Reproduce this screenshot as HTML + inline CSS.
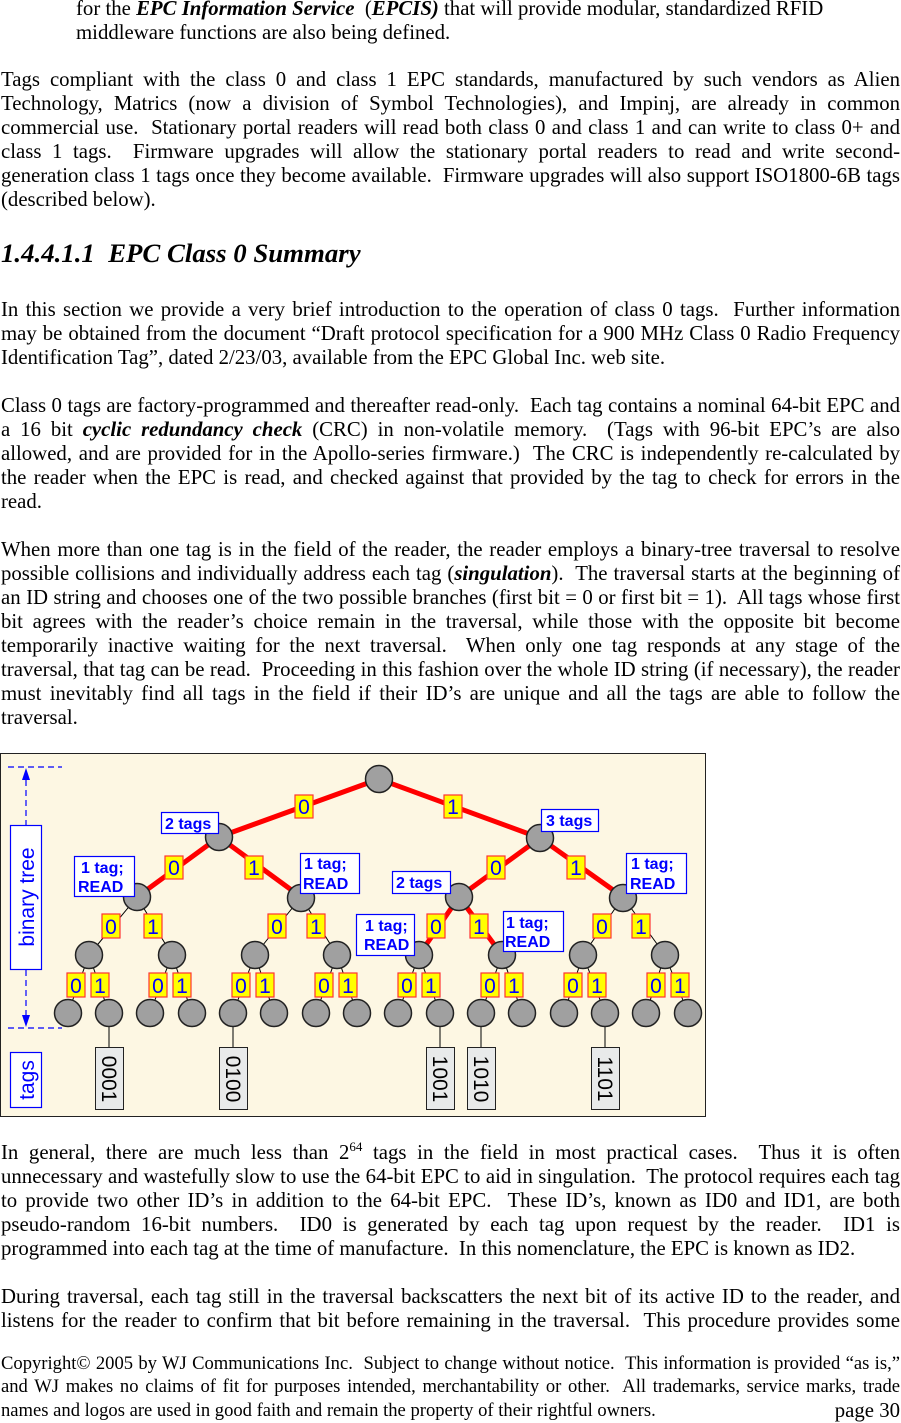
<!DOCTYPE html>
<html><head><meta charset="utf-8"><style>
body{margin:0;width:901px;height:1421px;background:#fff;position:relative;overflow:hidden;font-family:"Liberation Serif",serif;font-size:20.8px;color:#000}
.l{position:absolute;left:1px;width:899px;height:24px;line-height:24px;white-space:nowrap}
.j{text-align:justify;text-align-last:justify;white-space:normal}
.f{font-size:18.6px}
</style></head><body>
<div class="l" style="top:-3px;left:76px">for the <b><i>EPC Information Service</i></b>&nbsp; (<b><i>EPCIS)</i></b> that will provide modular, standardized RFID</div>
<div class="l" style="top:21px;left:76px">middleware functions are also being defined.</div>
<div class="l j" style="top:68px">Tags compliant with the class 0 and class 1 EPC standards, manufactured by such vendors as Alien</div>
<div class="l j" style="top:92px">Technology, Matrics (now a division of Symbol Technologies), and Impinj, are already in common</div>
<div class="l j" style="top:116px">commercial use.&nbsp; Stationary portal readers will read both class 0 and class 1 and can write to class 0+ and</div>
<div class="l j" style="top:140px">class 1 tags.&nbsp; Firmware upgrades will allow the stationary portal readers to read and write second-</div>
<div class="l j" style="top:164px">generation class 1 tags once they become available.&nbsp; Firmware upgrades will also support ISO1800-6B tags</div>
<div class="l" style="top:188px">(described below).</div>
<div class="l" style="top:238px;height:30px;line-height:30px;font-size:26.8px;font-weight:bold;font-style:italic">1.4.4.1.1&nbsp; EPC Class 0 Summary</div>
<div class="l j" style="top:298px">In this section we provide a very brief introduction to the operation of class 0 tags.&nbsp; Further information</div>
<div class="l j" style="top:322px">may be obtained from the document “Draft protocol specification for a 900 MHz Class 0 Radio Frequency</div>
<div class="l" style="top:346px">Identification Tag”, dated 2/23/03, available from the EPC Global Inc. web site.</div>
<div class="l j" style="top:394px">Class 0 tags are factory-programmed and thereafter read-only.&nbsp; Each tag contains a nominal 64-bit EPC and</div>
<div class="l j" style="top:418px">a 16 bit <b><i>cyclic redundancy check</i></b> (CRC) in non-volatile memory.&nbsp; (Tags with 96-bit EPC’s are also</div>
<div class="l j" style="top:442px">allowed, and are provided for in the Apollo-series firmware.)&nbsp; The CRC is independently re-calculated by</div>
<div class="l j" style="top:466px">the reader when the EPC is read, and checked against that provided by the tag to check for errors in the</div>
<div class="l" style="top:490px">read.</div>
<div class="l j" style="top:538px">When more than one tag is in the field of the reader, the reader employs a binary-tree traversal to resolve</div>
<div class="l j" style="top:562px">possible collisions and individually address each tag (<b><i>singulation</i></b>).&nbsp; The traversal starts at the beginning of</div>
<div class="l j" style="top:586px">an ID string and chooses one of the two possible branches (first bit = 0 or first bit = 1).&nbsp; All tags whose first</div>
<div class="l j" style="top:610px">bit agrees with the reader’s choice remain in the traversal, while those with the opposite bit become</div>
<div class="l j" style="top:634px">temporarily inactive waiting for the next traversal.&nbsp; When only one tag responds at any stage of the</div>
<div class="l j" style="top:658px">traversal, that tag can be read.&nbsp; Proceeding in this fashion over the whole ID string (if necessary), the reader</div>
<div class="l j" style="top:682px">must inevitably find all tags in the field if their ID’s are unique and all the tags are able to follow the</div>
<div class="l" style="top:706px">traversal.</div>

<svg style="position:absolute;left:0;top:753px" width="707" height="365" viewBox="0 753 707 365" font-family="Liberation Sans, sans-serif">
<rect x="0.5" y="753.5" width="705" height="363" fill="#fdf7e3" stroke="#222" stroke-width="1"/>
<g stroke="#0000ff" stroke-width="1.2" stroke-dasharray="6,4" fill="none">
<line x1="8" y1="767" x2="62" y2="767"/><line x1="8" y1="1028" x2="62" y2="1028"/>
<line x1="26" y1="780" x2="26" y2="1015"/></g>
<path d="M26 768 l-4 12 h8z M26 1027 l-4 -12 h8z" fill="#0000ff"/>
<g fill="#fff" stroke="#0000ff" stroke-width="1.2">
<rect x="10.5" y="825.5" width="31" height="144"/><rect x="10.5" y="1052.5" width="31" height="55"/></g>
<g fill="#0000ff" font-size="21" text-anchor="middle">
<text transform="translate(34,897) rotate(-90)">binary tree</text>
<text transform="translate(34,1080) rotate(-90)">tags</text></g>
<g stroke="#000" stroke-width="1">
<path d="M137 897L89 955M137 897L172 955M301 897L255 955M301 897L337 955M623 897L583 955M623 897L665 955"/>
<path d="M89 955L68 1013M89 955L109 1013M172 955L150 1013M172 955L192 1013M255 955L233 1013M255 955L274 1013M337 955L316 1013M337 955L357 1013M419 955L398 1013M419 955L440 1013M502 955L481 1013M502 955L522 1013M583 955L564 1013M583 955L605 1013M665 955L646 1013M665 955L688 1013"/>
<path d="M109 1013V1050M233 1013V1050M440 1013V1050M481 1013V1050M605 1013V1050"/></g>
<g stroke="#f00" stroke-width="5" stroke-linecap="round">
<path d="M379 779L219 837M379 779L540 838M219 837L137 897M219 837L301 897M540 838L459 897M540 838L623 897M459 897L419 955M459 897L502 955"/></g>
<g fill="#a0a0a0" stroke="#222" stroke-width="1.5">
<circle cx="379" cy="779" r="13.5"/><circle cx="219" cy="837" r="13.5"/><circle cx="540" cy="838" r="13.5"/>
<circle cx="137" cy="897" r="13.5"/><circle cx="301" cy="898" r="13.5"/><circle cx="459" cy="897" r="13.5"/><circle cx="623" cy="898" r="13.5"/>
<circle cx="89" cy="955" r="13.5"/><circle cx="172" cy="955" r="13.5"/><circle cx="255" cy="955" r="13.5"/><circle cx="337" cy="955" r="13.5"/><circle cx="419" cy="955" r="13.5"/><circle cx="502" cy="955" r="13.5"/><circle cx="583" cy="955" r="13.5"/><circle cx="665" cy="955" r="13.5"/>
<circle cx="68" cy="1013" r="13.5"/><circle cx="109" cy="1013" r="13.5"/><circle cx="150" cy="1013" r="13.5"/><circle cx="192" cy="1013" r="13.5"/><circle cx="233" cy="1013" r="13.5"/><circle cx="274" cy="1013" r="13.5"/><circle cx="316" cy="1013" r="13.5"/><circle cx="357" cy="1013" r="13.5"/><circle cx="398" cy="1013" r="13.5"/><circle cx="440" cy="1013" r="13.5"/><circle cx="481" cy="1013" r="13.5"/><circle cx="522" cy="1013" r="13.5"/><circle cx="564" cy="1013" r="13.5"/><circle cx="605" cy="1013" r="13.5"/><circle cx="646" cy="1013" r="13.5"/><circle cx="688" cy="1013" r="13.5"/></g>
<g font-size="21" text-anchor="middle">
<g fill="#ffff00" stroke="#f33" stroke-width="1.2">
<rect x="295" y="795" width="18" height="23"/><rect x="444" y="795" width="18" height="23"/>
<rect x="165" y="856" width="18" height="23"/><rect x="245" y="856" width="18" height="23"/><rect x="487" y="856" width="18" height="23"/><rect x="567" y="856" width="18" height="23"/>
<rect x="102" y="914" width="18" height="24"/><rect x="144" y="914" width="18" height="24"/><rect x="268" y="914" width="18" height="24"/><rect x="307" y="914" width="18" height="24"/><rect x="427" y="914" width="18" height="24"/><rect x="470" y="914" width="18" height="24"/><rect x="593" y="914" width="18" height="24"/><rect x="632" y="914" width="18" height="24"/>
<rect x="67" y="973" width="18" height="24"/><rect x="91" y="973" width="18" height="24"/><rect x="149" y="973" width="18" height="24"/><rect x="173" y="973" width="18" height="24"/><rect x="232" y="973" width="18" height="24"/><rect x="256" y="973" width="18" height="24"/><rect x="315" y="973" width="18" height="24"/><rect x="339" y="973" width="18" height="24"/><rect x="398" y="973" width="18" height="24"/><rect x="422" y="973" width="18" height="24"/><rect x="481" y="973" width="18" height="24"/><rect x="505" y="973" width="18" height="24"/><rect x="564" y="973" width="18" height="24"/><rect x="588" y="973" width="18" height="24"/><rect x="647" y="973" width="18" height="24"/><rect x="671" y="973" width="18" height="24"/></g>
<g fill="#0000ff">
<text x="304" y="814">0</text><text x="453" y="814">1</text>
<text x="174" y="875">0</text><text x="254" y="875">1</text><text x="496" y="875">0</text><text x="576" y="875">1</text>
<text x="111" y="934">0</text><text x="153" y="934">1</text><text x="277" y="934">0</text><text x="316" y="934">1</text><text x="436" y="934">0</text><text x="479" y="934">1</text><text x="602" y="934">0</text><text x="641" y="934">1</text>
<text x="76" y="993">0</text><text x="100" y="993">1</text><text x="158" y="993">0</text><text x="182" y="993">1</text><text x="241" y="993">0</text><text x="265" y="993">1</text><text x="324" y="993">0</text><text x="348" y="993">1</text><text x="407" y="993">0</text><text x="431" y="993">1</text><text x="490" y="993">0</text><text x="514" y="993">1</text><text x="573" y="993">0</text><text x="597" y="993">1</text><text x="656" y="993">0</text><text x="680" y="993">1</text></g></g>
<g fill="#fff" stroke="#0000ff" stroke-width="1.2">
<rect x="161.5" y="812.5" width="57" height="21"/><rect x="74.5" y="856.5" width="60" height="40"/><rect x="300.5" y="853.5" width="59" height="40"/>
<rect x="392.5" y="871.5" width="58" height="22"/><rect x="541.5" y="809.5" width="57" height="22"/><rect x="626.5" y="853.5" width="60" height="40"/>
<rect x="356.5" y="914.5" width="58" height="41"/><rect x="503.5" y="911.5" width="60" height="40"/></g>
<g fill="#0000ff" font-size="16" font-weight="bold">
<text x="165" y="829">2 tags</text><text x="396" y="888">2 tags</text><text x="546" y="826">3 tags</text>
<text x="81" y="873">1 tag;</text><text x="78" y="892">READ</text>
<text x="304" y="869">1 tag;</text><text x="303" y="889">READ</text>
<text x="631" y="869">1 tag;</text><text x="630" y="889">READ</text>
<text x="365" y="931">1 tag;</text><text x="364" y="950">READ</text>
<text x="506" y="928">1 tag;</text><text x="505" y="947">READ</text></g>
<g fill="#e8eaea" stroke="#222" stroke-width="1">
<rect x="95.5" y="1047.5" width="28" height="62"/><rect x="219.5" y="1047.5" width="28" height="62"/><rect x="426.5" y="1047.5" width="28" height="62"/><rect x="467.5" y="1047.5" width="28" height="62"/><rect x="591.5" y="1047.5" width="28" height="62"/></g>
<g fill="#000" font-size="21" text-anchor="middle">
<text transform="translate(102,1079) rotate(90)">0001</text><text transform="translate(226,1079) rotate(90)">0100</text><text transform="translate(433,1079) rotate(90)">1001</text><text transform="translate(474,1079) rotate(90)">1010</text><text transform="translate(598,1079) rotate(90)">1101</text></g>
</svg>

<div class="l j" style="top:1141px">In general, there are much less than 2<sup style="font-size:13px;line-height:0">64</sup> tags in the field in most practical cases.&nbsp; Thus it is often</div>
<div class="l j" style="top:1165px">unnecessary and wastefully slow to use the 64-bit EPC to aid in singulation.&nbsp; The protocol requires each tag</div>
<div class="l j" style="top:1189px">to provide two other ID’s in addition to the 64-bit EPC.&nbsp; These ID’s, known as ID0 and ID1, are both</div>
<div class="l j" style="top:1213px">pseudo-random 16-bit numbers.&nbsp; ID0 is generated by each tag upon request by the reader.&nbsp; ID1 is</div>
<div class="l" style="top:1237px">programmed into each tag at the time of manufacture.&nbsp; In this nomenclature, the EPC is known as ID2.</div>
<div class="l j" style="top:1285px">During traversal, each tag still in the traversal backscatters the next bit of its active ID to the reader, and</div>
<div class="l j" style="top:1309px">listens for the reader to confirm that bit before remaining in the traversal.&nbsp; This procedure provides some</div>
<div class="l j f" style="top:1352px">Copyright© 2005 by WJ Communications Inc.&nbsp; Subject to change without notice.&nbsp; This information is provided “as is,”</div>
<div class="l j f" style="top:1375px">and WJ makes no claims of fit for purposes intended, merchantability or other.&nbsp; All trademarks, service marks, trade</div>
<div class="l f" style="top:1399px">names and logos are used in good faith and remain the property of their rightful owners.</div>
<div class="l" style="top:1399px;left:auto;right:1px;width:auto">page 30</div>
</body></html>
